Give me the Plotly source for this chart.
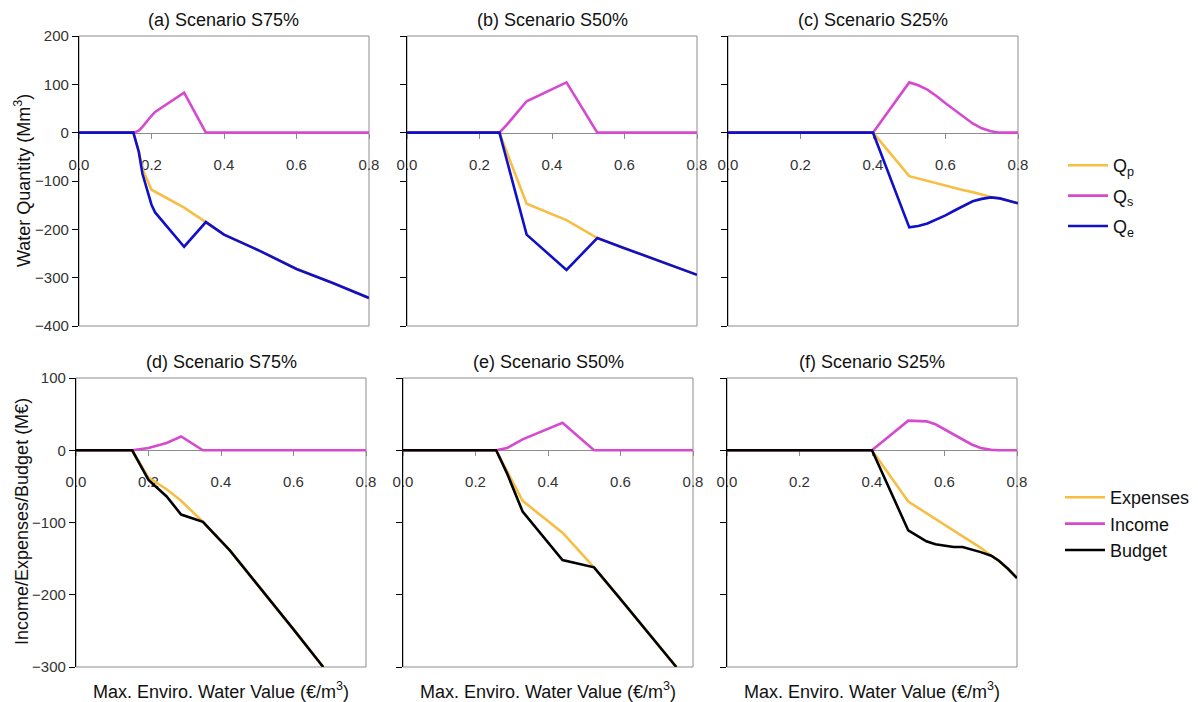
import plotly.graph_objects as go

W, H = 1198, 702

# ---- Water quantity (Mm3) vs max. environmental water value (EUR/m3) ----
# Scenario S75%
a_x = [0, 0.15, 0.165, 0.175, 0.2, 0.21, 0.29, 0.35, 0.4, 0.5, 0.6, 0.7, 0.8]
a_qp = [0, 0, -38, -75, -118, -122, -155, -185, -211, -245, -282, -311, -342]
a_qs = [0, 0, 4, 12, 35, 43, 83, 0, 0, 0, 0, 0, 0]
a_qe = [0, 0, -40, -85, -149, -165, -236, -185, -211, -245, -282, -311, -342]

# Scenario S50%
b_x = [0, 0.255, 0.275, 0.33, 0.44, 0.525, 0.6, 0.7, 0.8]
b_qp = [0, 0, -40, -147, -181, -218, -239, -266, -294]
b_qs = [0, 0, 16, 65, 104, 0, 0, 0, 0]
b_qe = [0, 0, -56, -211, -284, -218, -239, -266, -294]

# Scenario S25%
c_x = [0, 0.4, 0.5, 0.525, 0.55, 0.575, 0.6, 0.625, 0.65, 0.675, 0.7, 0.725, 0.75, 0.775, 0.8]
c_qp = [0, 0, -90, -95, -100, -104, -109, -114, -119, -123, -128, -133, -136, -141, -146]
c_qs = [0, 0, 104, 98, 89, 76, 61, 47, 33, 19, 9, 3, 0, 0, 0]
c_qe = [0, 0, -196, -193, -188, -180, -171, -161, -151, -142, -137, -134, -136, -141, -146]

# ---- Income / expenses / budget (M EUR) ----
# Scenario S75%
d_x = [0, 0.155, 0.2, 0.213, 0.25, 0.29, 0.35, 0.425, 0.508, 0.6, 0.682, 0.8]
d_exp = [0, 0, -38, -42, -54, -70, -99, -139, -190, -248, -300, None]
d_inc = [0, 0, 3, 5, 10, 19, 0, 0, 0, 0, 0, 0]
d_bud = [0, 0, -41, -47, -64, -89, -99, -139, -190, -248, -300, None]

# Scenario S50%
e_x = [0, 0.257, 0.287, 0.33, 0.44, 0.527, 0.6, 0.7, 0.754, 0.8]
e_exp = [0, 0, -29, -70, -114, -162, -206, -267, -300, None]
e_inc = [0, 0, 3, 15, 38, 0, 0, 0, 0, 0]
e_bud = [0, 0, -32, -85, -152, -162, -206, -267, -300, None]

# Scenario S25%
f_x = [0, 0.4, 0.5, 0.525, 0.55, 0.575, 0.6, 0.625, 0.65, 0.675, 0.7, 0.729, 0.75, 0.775, 0.8]
f_exp = [0, 0, -71, -79, -87, -95, -103, -111, -119, -127, -135, -146, -153, -164, -177]
f_inc = [0, 0, 41, 41, 40, 36, 29, 21, 14, 8, 3, 0.5, 0, 0, 0]
f_bud = [0, 0, -111, -119, -126, -130, -132, -134, -134, -137, -141, -146, -153, -164, -177]

x_ticks = [0, 0.2, 0.4, 0.6, 0.8]
top_range = [-400, 200]
bottom_range = [-300, 100]

titles = ["(a) Scenario S75%", "(b) Scenario S50%", "(c) Scenario S25%",
          "(d) Scenario S75%", "(e) Scenario S50%", "(f) Scenario S25%"]

C_YEL = "#F7BE45"
C_MAG = "#D64ACF"
C_BLU = "#1010C8"
C_BLK = "#000000"

FONT = "Liberation Sans, Arial, sans-serif"

# plot-area extents in pixels (left, right) and (top, bottom)
col_px_top = [(79, 369), (407, 697), (728, 1018)]
col_px_bot = [(76, 366), (403, 693), (727, 1017)]
row_px = [(36, 326), (378, 667)]

top_series = [("Q<sub>p</sub>", C_YEL), ("Q<sub>s</sub>", C_MAG), ("Q<sub>e</sub>", C_BLU)]
bot_series = [("Expenses", C_YEL), ("Income", C_MAG), ("Budget", C_BLK)]

panels = [
    (a_x, [a_qp, a_qs, a_qe]),
    (b_x, [b_qp, b_qs, b_qe]),
    (c_x, [c_qp, c_qs, c_qe]),
    (d_x, [d_exp, d_inc, d_bud]),
    (e_x, [e_exp, e_inc, e_bud]),
    (f_x, [f_exp, f_inc, f_bud]),
]

fig = go.Figure()
layout = {}
shapes = []
annotations = []

for k, (xs, ys_list) in enumerate(panels):
    idx = k + 1
    row = 0 if k < 3 else 1
    col = k % 3
    sfx = "" if idx == 1 else str(idx)
    xname, yname = "x" + sfx, "y" + sfx
    px_l, px_r = (col_px_top if row == 0 else col_px_bot)[col]
    py_t, py_b = row_px[row]
    xdom = [px_l / W, px_r / W]
    ydom = [1 - py_b / H, 1 - py_t / H]
    yr = top_range if row == 0 else bottom_range
    series = top_series if row == 0 else bot_series

    for (name, color), ys in zip(series, ys_list):
        fig.add_trace(go.Scatter(
            x=xs, y=ys, mode="lines", name=name,
            line=dict(color=color, width=2.6),
            xaxis=xname, yaxis=yname,
            legend="legend" if row == 0 else "legend2",
            legendgroup=name, showlegend=(col == 0),
            connectgaps=False, hoverinfo="skip",
        ))

    # x axis runs along the zero line of the value axis
    zero_frac = (0 - yr[0]) / (yr[1] - yr[0])
    layout["xaxis" + sfx] = dict(
        domain=xdom, range=[0, 0.8], anchor="free",
        position=ydom[0] + zero_frac * (ydom[1] - ydom[0]),
        tickvals=x_ticks, tickformat=".1f",
        showline=True, linecolor="#8c8c8c", linewidth=1,
        ticks="outside", ticklen=5, tickcolor="#8c8c8c",
        tickfont=dict(size=15, color="#333333", family=FONT),
        ticklabelstandoff=13,
        showgrid=False, zeroline=False, layer="below traces",
        fixedrange=True, automargin=False,
    )
    layout["yaxis" + sfx] = dict(
        domain=ydom, range=yr, anchor=xname, dtick=100,
        showline=True, linecolor="#000000", linewidth=1.3,
        ticks="outside", ticklen=6, tickcolor="#000000",
        showticklabels=(col == 0),
        tickfont=dict(size=15, color="#333333", family=FONT),
        showgrid=False, zeroline=False, fixedrange=True, automargin=False,
    )
    # frame around each panel
    shapes.append(dict(
        type="rect", xref=xname + " domain", yref=yname + " domain",
        x0=0, x1=1, y0=0, y1=1, line=dict(color="#8c8c8c", width=1),
        layer="below",
    ))
    annotations.append(dict(
        text=titles[k], xref=xname + " domain", yref=yname + " domain",
        x=0.5, y=1, yshift=4, xanchor="center", yanchor="bottom",
        showarrow=False, font=dict(size=18, color="#111111", family=FONT),
    ))
    if row == 1:
        annotations.append(dict(
            text="Max. Enviro. Water Value (€/m<sup>3</sup>)",
            xref=xname + " domain", yref="paper",
            x=0.5, y=1 - 690 / H, xanchor="center", yanchor="middle",
            showarrow=False, font=dict(size=18, color="#111111", family=FONT),
        ))

annotations.append(dict(
    text="Water Quantity (Mm<sup>3</sup>)", xref="paper", yref="paper",
    x=22 / W, y=1 - 181 / H, textangle=-90, xanchor="center", yanchor="middle",
    showarrow=False, font=dict(size=18, color="#111111", family=FONT),
))
annotations.append(dict(
    text="Income/Expenses/Budget (M€)", xref="paper", yref="paper",
    x=22 / W, y=1 - 522 / H, textangle=-90, xanchor="center", yanchor="middle",
    showarrow=False, font=dict(size=18, color="#111111", family=FONT),
))

legend_common = dict(
    xanchor="left", yanchor="top", bgcolor="rgba(0,0,0,0)",
    font=dict(size=18, color="#111111", family=FONT),
    itemwidth=40, traceorder="grouped",
)

fig.update_layout(
    width=W, height=H,
    margin=dict(l=0, r=0, t=0, b=0, autoexpand=False),
    paper_bgcolor="white", plot_bgcolor="white",
    font=dict(family=FONT),
    showlegend=True,
    legend=dict(x=1063 / W, y=1 - 147 / H, tracegroupgap=4, **legend_common),
    legend2=dict(x=1060 / W, y=1 - 479 / H, tracegroupgap=0, **legend_common),
    shapes=shapes,
    annotations=annotations,
    **layout,
)

fig.write_html("out.html")
